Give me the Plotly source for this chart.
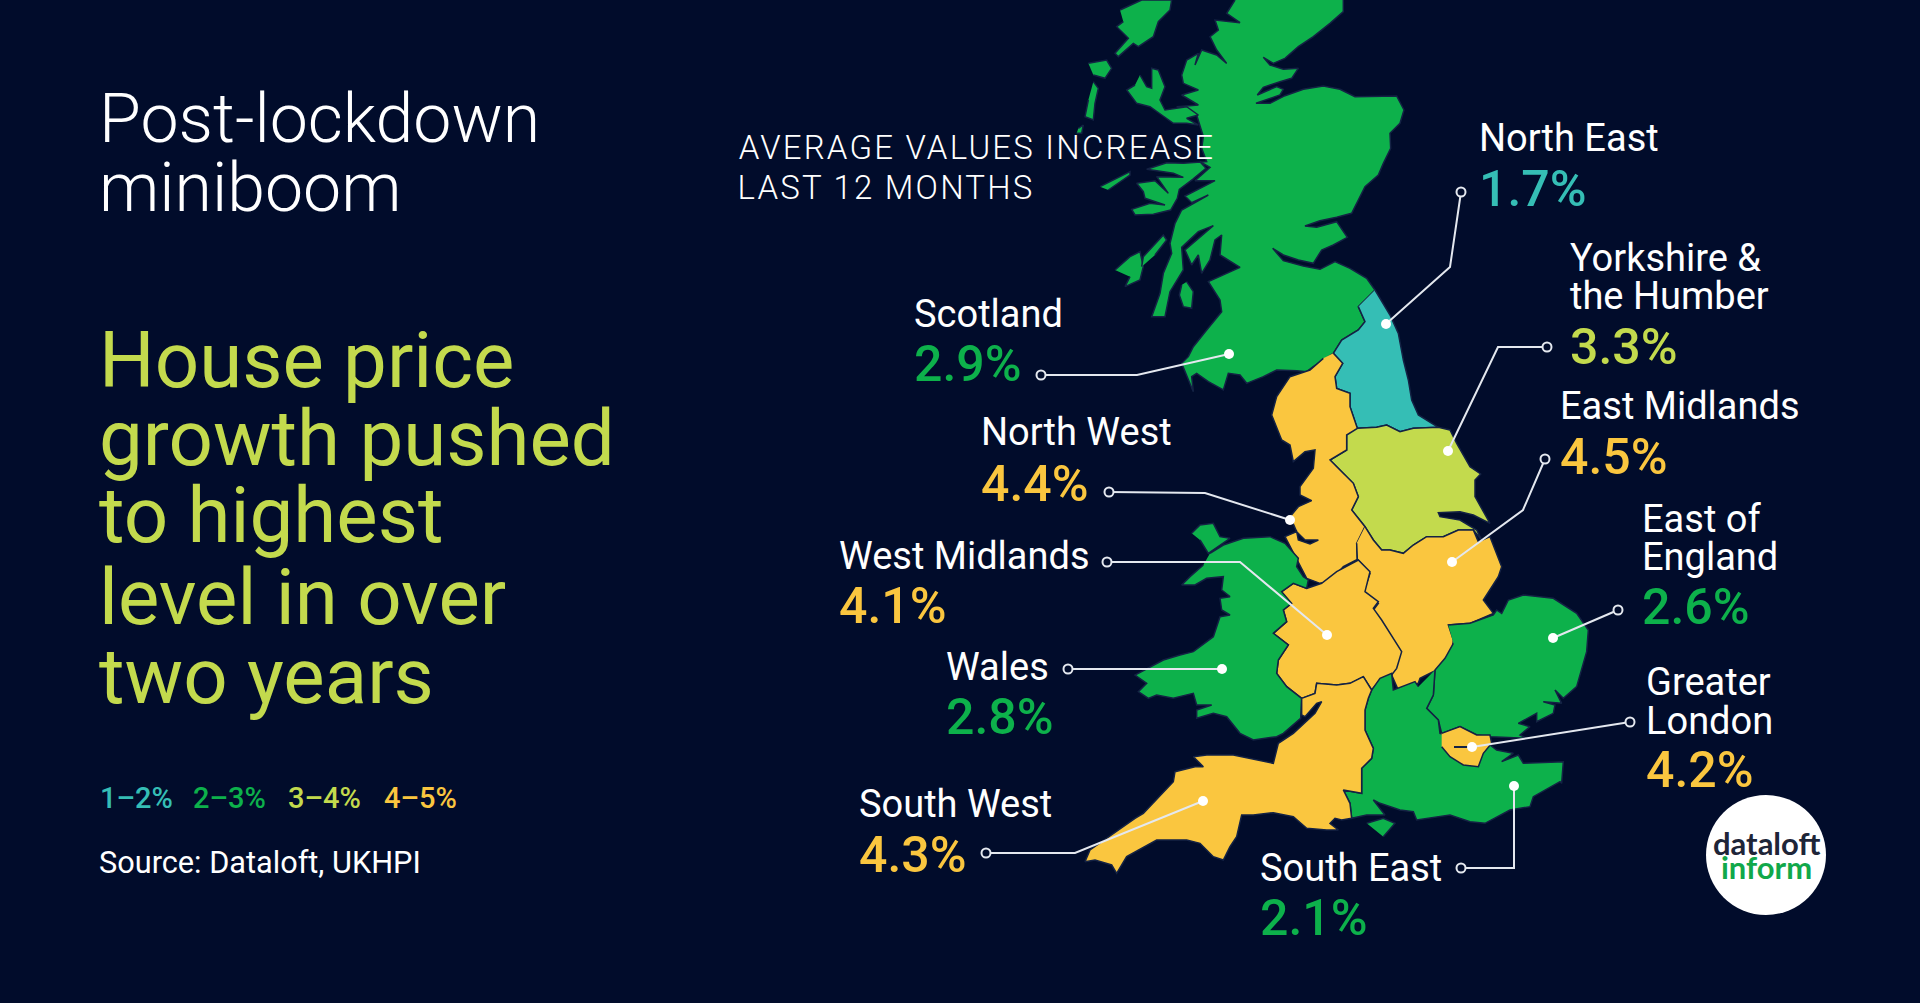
import plotly.graph_objects as go

def crop(ox, oy, pts):
    return [(ox + p[0] / 3, oy + p[1] / 3) for p in pts]

BG = "#010c2b"
BORDER = "#142244"
TEAL = "#35beb5"
GREEN = "#0db14b"
LIME = "#c3da4d"
YELLOW = "#fac63f"

def band(value):
    if value < 2:
        return TEAL
    if value < 3:
        return GREEN
    if value < 4:
        return LIME
    return YELLOW

# values
regions = ["Scotland", "North East", "Yorkshire & the Humber", "North West", "East Midlands",
           "West Midlands", "Wales", "East of England", "Greater London", "South East", "South West"]
values = [2.9, 1.7, 3.3, 4.4, 4.5, 4.1, 2.8, 2.6, 4.2, 2.1, 4.3]
legend_labels = ["1–2%", "2–3%", "3–4%", "4–5%"]
legend_colors = [TEAL, GREEN, LIME, YELLOW]
legend_x = [98, 191, 286, 382]

# label name lines, [x, y of each line]
label_lines = [["Scotland"], ["North East"], ["Yorkshire &", "the Humber"], ["North West"], ["East Midlands"],
               ["West Midlands"], ["Wales"], ["East of", "England"], ["Greater", "London"], ["South East"], ["South West"]]
label_x = [912, 1477, 1568, 979, 1558, 837, 944, 1640, 1644, 1258, 857]
label_y = [[314], [138], [258, 296], [432], [406], [556], [667], [519, 557], [682, 721], [868], [804]]
value_y = [364, 189, 347, 484, 457, 606, 717, 607, 770, 918, 855]

# leader lines: open dot, elbow (if any), end on the map
leader_x = [[1041, 1137, 1229], [1461, 1450, 1386], [1547, 1498, 1448], [1109, 1205, 1290], [1545, 1523, 1452],
            [1107, 1240, 1327], [1068, 1222], [1618, 1553], [1630, 1472], [1461, 1514, 1514], [986, 1075, 1203]]
leader_y = [[375, 375, 354], [192, 267, 324], [347, 347, 451], [492, 493, 520], [459, 510, 562],
            [562, 562, 635], [669, 669], [610, 638], [722, 747], [868, 868, 786], [853, 853, 801]]

scotland = (
    crop(1050, 0, [(880, 0), (880, 35), (840, 70), (790, 110), (745, 140), (705, 175), (670, 190), (640, 172), (660, 195),
                   (700, 208), (745, 205), (725, 235), (690, 245), (640, 262), (622, 285), (680, 260), (700, 268),
                   (690, 285), (618, 310), (660, 310), (705, 287), (760, 268), (820, 258), (870, 268), (915, 290),
                   (960, 290), (1040, 288), (1062, 330), (1050, 370), (1020, 400), (1022, 445), (1000, 490), (985, 525),
                   (945, 560), (930, 590), (905, 640), (860, 652), (810, 662), (765, 678), (800, 682), (860, 665),
                   (892, 712), (850, 735), (815, 750), (790, 790), (745, 780), (700, 765), (668, 745), (700, 782),
                   (760, 798), (810, 808), (855, 785), (900, 805), (950, 835), (975, 870), (925, 920), (945, 965),
                   (925, 990), (875, 1020), (850, 1060)])
    + crop(1150, 340, [(490, 80), (470, 95), (440, 92), (380, 90), (340, 110), (290, 130), (270, 105), (235, 100),
                       (220, 150), (175, 125), (140, 100), (125, 110), (130, 155), (112, 110), (95, 70), (115, 50)])
    + crop(1050, 0, [(430, 1040), (470, 990), (515, 935)])
    + crop(1120, 160, [(300, 420), (265, 365), (360, 322), (300, 285), (305, 225), (285, 240), (270, 300), (245, 340),
                       (235, 285), (215, 315), (195, 270), (280, 197), (235, 215), (185, 262), (190, 330), (150, 395),
                       (135, 470), (95, 470), (120, 400), (130, 340), (155, 280), (150, 250), (165, 190), (185, 150),
                       (265, 105), (215, 128), (195, 108), (285, 62), (225, 62), (270, 22), (240, 5), (258, 25), (218, 58),
                       (178, 88), (172, 115), (152, 150), (100, 163), (45, 165), (35, 148), (90, 130), (135, 135), (75, 115),
                       (70, 95), (50, 70), (105, 62), (145, 100), (110, 50), (190, 52), (160, 40), (80, 28), (140, 8)])
    + crop(1050, 0, [(400, 490), (470, 485), (455, 445)])
    + crop(1070, 0, [(400, 410), (390, 375), (380, 345), (320, 320), (385, 315), (335, 285), (385, 270), (340, 250),
                     (335, 225), (350, 180), (385, 160), (375, 195), (395, 150), (440, 165), (470, 190), (440, 150),
                     (420, 110), (445, 90), (435, 60), (510, 68), (470, 40), (495, 0)])
)
lewis = crop(1070, 0, [(150, 30), (215, 0), (305, 0), (300, 30), (265, 65), (250, 110), (205, 140), (190, 130), (145, 170),
                       (135, 160), (175, 115), (150, 90), (140, 80), (160, 65)])
north_uist = crop(1070, 0, [(55, 190), (110, 180), (125, 205), (105, 235), (70, 225)])
south_uist = crop(1070, 0, [(70, 245), (85, 265), (75, 310), (70, 360), (45, 350), (55, 300)])
barra = crop(1070, 0, [(25, 385), (40, 375), (35, 400), (20, 400)])
skye = crop(1070, 0, [(210, 225), (230, 260), (245, 265), (245, 205), (265, 210), (285, 260), (270, 300), (285, 330),
                      (350, 320), (385, 345), (350, 355), (385, 375), (350, 370), (310, 370), (275, 345), (240, 320),
                      (200, 310), (170, 270), (195, 255)])
mull = crop(1050, 0, [(195, 810), (240, 770), (270, 755), (280, 800), (270, 840), (225, 860), (240, 830)])
jura = crop(1120, 160, [(65, 320), (70, 290), (130, 225), (140, 240), (105, 285)])
coll = crop(1050, 0, [(150, 560), (240, 515), (240, 525), (175, 570)])
arran = crop(1120, 160, [(200, 365), (220, 395), (215, 445), (190, 440), (178, 405), (185, 375)])

north_east = (
    crop(1050, 0, [(975, 870), (1020, 945), (1045, 1000), (1060, 1080), (1075, 1140), (1085, 1200)])
    + crop(1150, 340, [(805, 225), (865, 262), (790, 265), (750, 275), (710, 255), (680, 262), (622, 265), (600, 200),
                       (600, 160), (560, 145), (555, 110), (578, 70), (550, 40)])
    + crop(1050, 0, [(875, 1020), (925, 990), (945, 965), (925, 920)])
)
north_west = crop(1150, 340, [(550, 40), (578, 70), (555, 110), (560, 145), (600, 160), (600, 200), (622, 265), (590, 285),
                              (590, 330), (540, 360), (570, 390), (610, 430), (625, 470), (605, 510), (645, 560), (620, 610),
                              (622, 658), (580, 680), (540, 725), (510, 730), (470, 715), (445, 665), (420, 620), (405, 590),
                              (440, 575), (445, 600), (480, 612), (505, 600), (465, 600), (440, 575), (420, 530), (445, 500),
                              (485, 482), (450, 465), (450, 440), (490, 385), (495, 330), (465, 335), (430, 365), (420, 315),
                              (395, 300), (365, 225), (380, 170), (420, 110), (480, 90), (520, 55)])
yorkshire = crop(1150, 340, [(622, 265), (680, 262), (710, 255), (750, 275), (790, 265), (865, 262), (900, 270), (920, 310),
                             (960, 380), (992, 402), (975, 420), (975, 470), (1020, 550), (970, 525), (930, 515), (865, 518),
                             (870, 530), (930, 540), (980, 570), (995, 600), (970, 570), (925, 570), (880, 590), (830, 590),
                             (790, 615), (760, 640), (720, 630), (695, 630), (670, 600), (645, 560), (605, 510), (625, 470),
                             (610, 430), (570, 390), (540, 360), (590, 330), (590, 285)])
east_midlands = crop(1150, 340, [(645, 560), (670, 600), (695, 630), (720, 630), (760, 640), (790, 615), (830, 590), (880, 590),
                                 (925, 570), (970, 570), (985, 605), (1020, 590), (1055, 680), (1045, 710), (1000, 780),
                                 (1030, 820), (960, 850), (895, 855), (910, 900), (905, 950), (860, 990), (810, 1015),
                                 (805, 1030), (745, 1050), (725, 1005), (750, 940), (695, 870), (670, 810), (685, 790),
                                 (640, 760), (660, 700), (622, 658), (620, 610)])
west_midlands = crop(1180, 520, [(305, 215), (340, 190), (380, 205), (425, 190), (470, 155), (535, 120), (570, 155), (555, 215),
                                 (595, 245), (580, 265), (605, 300), (665, 395), (650, 445), (635, 465), (600, 480), (575, 510),
                                 (550, 470), (510, 490), (470, 495), (410, 490), (405, 520), (365, 535), (320, 500), (290, 460),
                                 (295, 420), (325, 375), (280, 340), (320, 305), (310, 270), (335, 250)])
wales = (
    crop(1180, 520, [(90, 100), (130, 75), (190, 55), (270, 50), (315, 70), (355, 115), (350, 140), (370, 170), (385, 180),
                     (380, 205), (340, 190), (305, 215), (335, 250), (310, 270), (320, 305), (280, 340), (325, 375), (295, 420),
                     (290, 460), (320, 500), (365, 535), (362, 595), (310, 640), (290, 650), (220, 660), (180, 640), (140, 590),
                     (100, 580), (50, 595), (50, 570), (95, 555), (50, 555), (40, 520)])
    + crop(1060, 660, [(340, 115), (290, 105), (265, 115), (235, 95), (260, 70), (225, 45), (310, 0)])
    + crop(1180, 520, [(0, 405), (40, 395), (100, 350), (120, 290), (150, 285), (125, 270), (120, 235), (150, 230), (125, 210),
                       (130, 170), (80, 175), (45, 195), (5, 195), (30, 170), (70, 135)])
)
anglesey = crop(1180, 520, [(35, 40), (60, 15), (100, 10), (120, 50), (150, 55), (85, 100), (60, 60)])
south_west = (
    crop(1180, 520, [(365, 535), (405, 520), (410, 490), (470, 495), (510, 490), (550, 470), (575, 510)])
    + crop(1060, 660, [(925, 115), (915, 150), (915, 210), (940, 265), (935, 295), (905, 325), (905, 400), (850, 390), (870, 430),
                       (875, 475), (845, 480), (825, 475), (810, 490), (835, 510), (800, 510), (740, 505), (700, 470), (640, 458),
                       (580, 465), (545, 465), (530, 530), (510, 560), (490, 600), (460, 590), (420, 550), (380, 540), (330, 540),
                       (290, 540), (200, 590), (170, 640), (155, 615), (105, 600), (75, 605), (90, 570), (225, 475), (250, 460),
                       (340, 365), (345, 335), (405, 320), (430, 320), (400, 290), (440, 285), (520, 285), (640, 310), (655, 250),
                       (700, 220), (765, 160), (785, 125), (770, 130), (735, 170), (725, 165), (725, 115)])
)
south_east = (
    crop(1380, 580, [(165, 270), (160, 345), (140, 385), (175, 420), (180, 460), (330, 495), (350, 510), (400, 520), (365, 545),
                     (415, 525), (430, 550), (550, 545), (545, 610)])
    + crop(1060, 660, [(1500, 365), (1420, 410), (1410, 440), (1350, 450), (1275, 490), (1230, 485), (1170, 465), (1070, 480),
                       (1060, 455), (1020, 450), (960, 430), (940, 420), (975, 465), (920, 465), (875, 475), (870, 430),
                       (850, 390), (905, 400), (905, 325), (935, 295), (940, 265), (915, 210), (915, 150), (925, 115), (935, 90)])
    + crop(1380, 580, [(0, 295), (35, 280), (40, 330), (105, 305), (115, 320)])
)
wight = crop(1060, 660, [(920, 490), (970, 475), (1005, 490), (970, 530)])
east_england = crop(1380, 580, [(205, 135), (270, 130), (340, 105), (350, 90), (365, 100), (385, 60), (430, 45), (520, 55), (590, 100),
                                (625, 150), (620, 215), (590, 320), (550, 355), (525, 330), (545, 370), (490, 365), (525, 375),
                                (520, 400), (470, 425), (470, 400), (415, 430), (450, 440), (420, 465), (440, 475), (330, 470),
                                (290, 465), (240, 440), (185, 460), (175, 420), (140, 385), (160, 345), (165, 270), (195, 235),
                                (220, 190)])
greater_london = crop(1380, 580, [(185, 460), (240, 440), (290, 465), (330, 465), (335, 490), (310, 520), (295, 560), (250, 555),
                                  (210, 530), (185, 500)])

region_shapes = [
    [scotland, lewis, north_uist, south_uist, barra, skye, mull, jura, coll, arran],
    [north_east], [yorkshire], [north_west], [east_midlands], [west_midlands], [wales, anglesey],
    [east_england], [south_east, wight], [south_west],
]
shape_values = [2.9, 1.7, 3.3, 4.4, 4.5, 4.1, 2.8, 2.6, 2.1, 4.3]

fig = go.Figure()

for parts, val in zip(region_shapes, shape_values):
    for part in parts:
        fig.add_trace(go.Scatter(
            x=[p[0] for p in part], y=[p[1] for p in part],
            mode="lines", fill="toself", fillcolor=band(val),
            line=dict(color=BORDER, width=1.5), hoverinfo="skip",
        ))
# london goes last so it sits on top of the south east
fig.add_trace(go.Scatter(
    x=[p[0] for p in greater_london], y=[p[1] for p in greater_london],
    mode="lines", fill="toself", fillcolor=band(4.2),
    line=dict(color=BORDER, width=1.5), hoverinfo="skip",
))
fig.add_trace(go.Scatter(x=[1454, 1470], y=[747, 747], mode="lines", line=dict(color=BORDER, width=2), hoverinfo="skip"))

# leader lines
for lx, ly in zip(leader_x, leader_y):
    fig.add_trace(go.Scatter(x=lx, y=ly, mode="lines", line=dict(color="#e4e8ef", width=2), hoverinfo="skip"))
fig.add_trace(go.Scatter(
    x=[lx[0] for lx in leader_x], y=[ly[0] for ly in leader_y], mode="markers",
    marker=dict(size=9, color=BG, line=dict(color="#e4e8ef", width=2)), hoverinfo="skip",
))
fig.add_trace(go.Scatter(
    x=[lx[-1] for lx in leader_x], y=[ly[-1] for ly in leader_y], mode="markers",
    marker=dict(size=10, color="white"), hoverinfo="skip",
))

def add_text(x, y, text, size, color="white", weight=400, family="Roboto", anchor="left"):
    fig.add_annotation(x=x, y=y, text=text, showarrow=False, xanchor=anchor, yanchor="middle",
                       font=dict(family=family, size=size, color=color, weight=weight))

# left column
title_lines = ["Post-lockdown", "miniboom"]
title_y = [119, 188]
for line, y in zip(title_lines, title_y):
    add_text(97, y, line, 68, weight=300)

headline_lines = ["House price", "growth pushed", "to highest", "level in over", "two years"]
headline_y = [360, 438, 515, 597, 676]
for line, y in zip(headline_lines, headline_y):
    add_text(97, y, line, 78, color=LIME)

for text, color, x in zip(legend_labels, legend_colors, legend_x):
    add_text(x, 798, text, 29, color=color, weight=500)
add_text(97, 862, "Source: Dataloft, UKHPI", 30.7)

# the letter spacing below grows these two from the middle, so x allows for that
add_text(762, 147, "AVERAGE VALUES INCREASE", 33, weight=300)
add_text(751, 187, "LAST 12 MONTHS", 33, weight=300)

# region labels
for lines, lx, ys, vy, val in zip(label_lines, label_x, label_y, value_y, values):
    for line, y in zip(lines, ys):
        add_text(lx, y, line, 38)
    add_text(lx, vy, f"{val}%", 50, color=band(val), weight=500)

# logo
fig.add_shape(type="circle", x0=1706, x1=1826, y0=795, y1=915, fillcolor="white", line=dict(width=0), layer="above")
add_text(1766, 843, "dataloft", 31, color="#1e2538", weight=700, family="Lato", anchor="center")
add_text(1766, 867, "inform", 31, color="#11a84a", weight=700, family="Lato", anchor="center")

fig.update_layout(
    width=1920, height=1003,
    margin=dict(l=0, r=0, t=0, b=0),
    paper_bgcolor=BG, plot_bgcolor=BG,
    showlegend=False,
    xaxis=dict(range=[0, 1920], visible=False, fixedrange=True),
    yaxis=dict(range=[1003, 0], visible=False, fixedrange=True),
)

# annotations have no letter spacing option, the two caps lines need it
spacing = """
document.body.style.margin='0';
document.body.style.background='#010c2b';
document.querySelectorAll('.annotation-text').forEach(function (t) {
    if (t.textContent.startsWith('AVERAGE') || t.textContent.startsWith('LAST')) {
        t.style.letterSpacing = '2.2px';
    }
});
"""
fig.write_html("out.html", config=dict(displayModeBar=False), post_script=spacing)
